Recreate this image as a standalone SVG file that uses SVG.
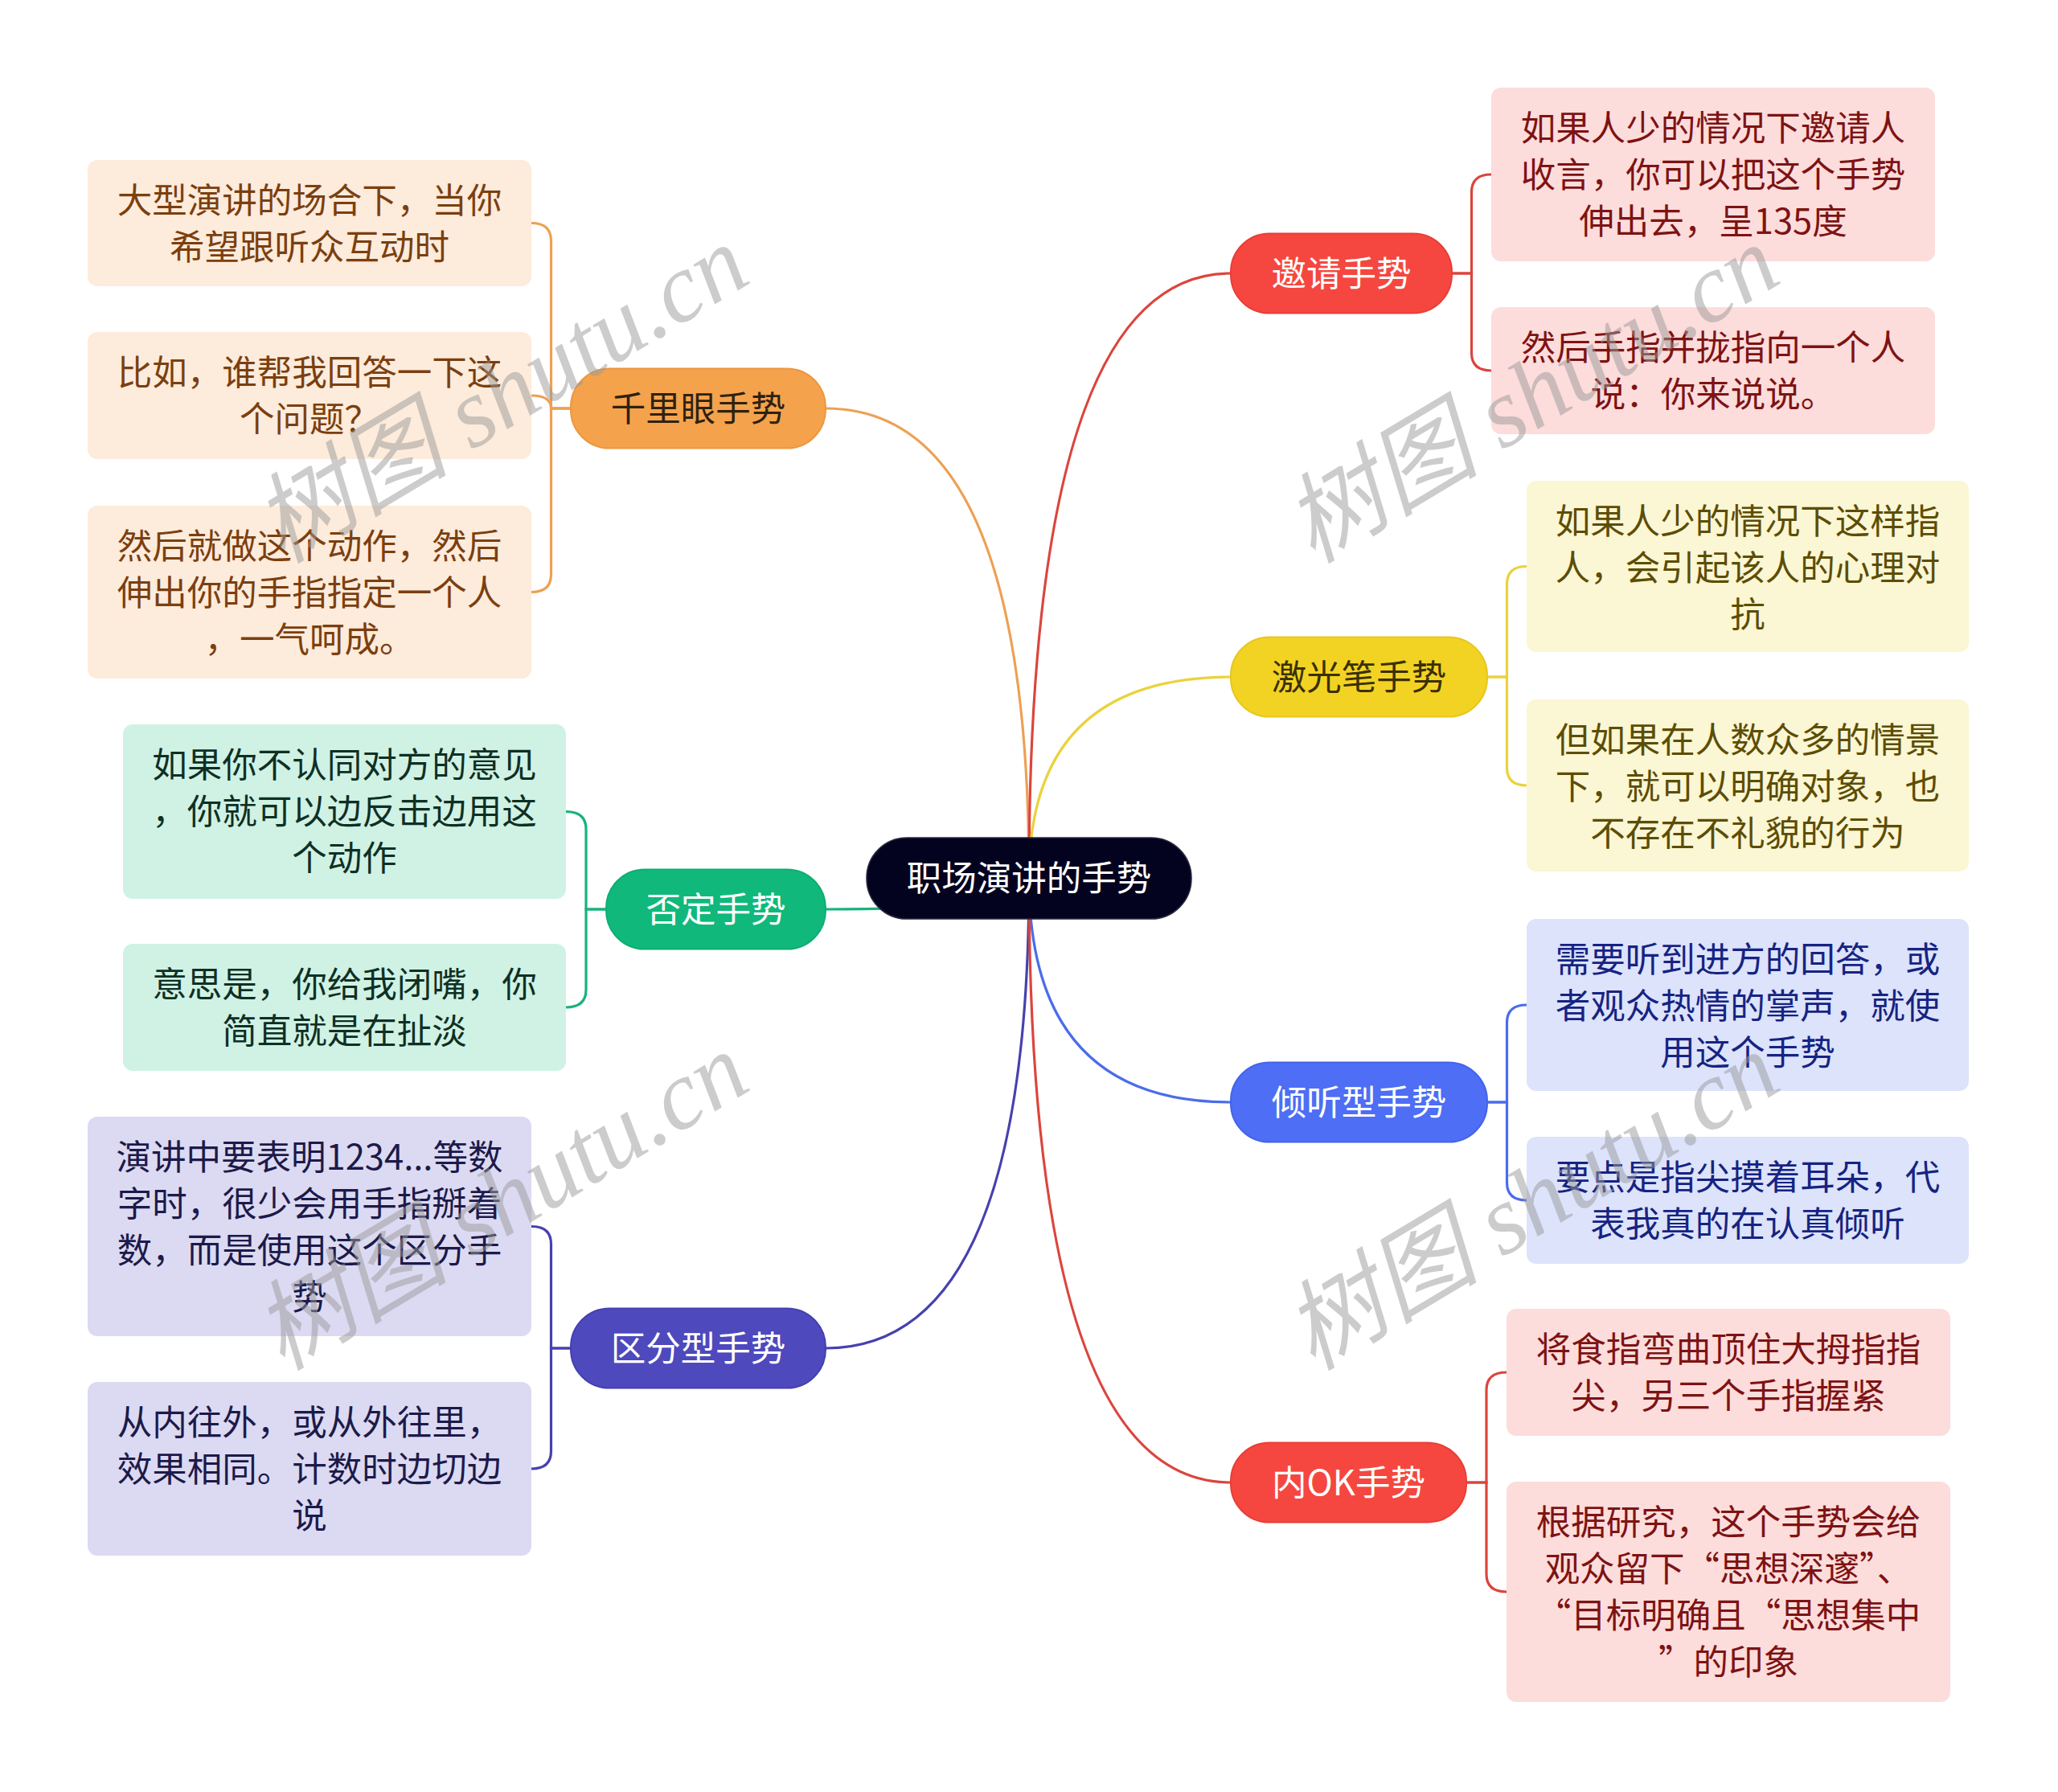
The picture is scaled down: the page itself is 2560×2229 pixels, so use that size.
<svg xmlns="http://www.w3.org/2000/svg" width="2560" height="2229" viewBox="0 0 2560 2229">
<style>
text{font-family:"Noto Sans CJK SC","Noto Sans",sans-serif;font-size:43.5px;text-anchor:middle}
.ln{fill:none;stroke-width:3.2;stroke-linecap:round}
.wm{font-family:"Liberation Serif","Noto Sans CJK SC",serif;font-style:italic;font-size:122px;fill:#9a9a9a;opacity:0.5;text-anchor:start}
.o{stroke:#EDA052}.g{stroke:#17B37B}.p{stroke:#4641AE}.r{stroke:#DB453D}.y{stroke:#EBD23C}.b{stroke:#4B6CEA}
.lo{fill:#FDEBDB}.lg{fill:#CFF2E4}.lp{fill:#DCDAF2}.lr{fill:#FDDCDC}.ly{fill:#FBF6D3}.lb{fill:#DCE3FB}
.to{fill:#7B3F0F}.tg{fill:#0F2F24}.tp{fill:#1C1A4A}.tr{fill:#7D1313}.ty{fill:#5C4D05}.tb{fill:#162382}
</style>
<rect width="2560" height="2229" fill="#ffffff"/>
<g id="connectors">
<path class="ln o" d="M1280 1092 Q1280 508 1027 508"/>
<path class="ln g" d="M1280 1092 Q1280 1131 1027 1131"/>
<path class="ln p" d="M1280 1092 Q1280 1677 1027 1677"/>
<path class="ln r" d="M1280 1092 Q1280 340 1531 340"/>
<path class="ln y" d="M1280 1092 Q1280 842 1531 842"/>
<path class="ln b" d="M1280 1092 Q1280 1371 1531 1371"/>
<path class="ln r" d="M1280 1092 Q1280 1844 1531 1844"/>
<path class="ln o" d="M710 508 H685.5 V299.5 Q685.5 277.5 661 277.5"/>
<path class="ln o" d="M710 508 H685.5 Q685.5 492 661 492"/>
<path class="ln o" d="M710 508 H685.5 V714.5 Q685.5 736.5 661 736.5"/>
<path class="ln g" d="M754 1131 H729 V1031.5 Q729 1009.5 704 1009.5"/>
<path class="ln g" d="M754 1131 H729 V1231 Q729 1253 704 1253"/>
<path class="ln p" d="M710 1677 H685.5 V1547.5 Q685.5 1525.5 661 1525.5"/>
<path class="ln p" d="M710 1677 H685.5 V1805 Q685.5 1827 661 1827"/>
<path class="ln r" d="M1806 340 H1830.5 V239 Q1830.5 217 1855 217"/>
<path class="ln r" d="M1806 340 H1830.5 V439 Q1830.5 461 1855 461"/>
<path class="ln y" d="M1850 842 H1874.5 V726.5 Q1874.5 704.5 1899 704.5"/>
<path class="ln y" d="M1850 842 H1874.5 V955 Q1874.5 977 1899 977"/>
<path class="ln b" d="M1850 1371 H1874.5 V1272 Q1874.5 1250 1899 1250"/>
<path class="ln b" d="M1850 1371 H1874.5 V1471 Q1874.5 1493 1899 1493"/>
<path class="ln r" d="M1824 1844 H1849 V1729 Q1849 1707 1874 1707"/>
<path class="ln r" d="M1824 1844 H1849 V1958 Q1849 1980 1874 1980"/>
</g>
<g id="center">
<rect x="1078" y="1042" width="404" height="101" rx="50" fill="#04031F" stroke="#2a2a40" stroke-width="1.5"/>
<text x="1280" y="1108" fill="#ffffff">职场演讲的手势</text>
</g>
<g id="n-qianliyan">
<rect x="710" y="458.5" width="317" height="99" rx="48" fill="#F5A24D" stroke="#EC9740" stroke-width="2"/>
<text x="868.5" y="524" fill="#2E2210">千里眼手势</text>
</g>
<g id="n-fouding">
<rect x="754" y="1081.5" width="273" height="99" rx="48" fill="#10B97B" stroke="#0EAE73" stroke-width="2"/>
<text x="890.5" y="1147" fill="#ffffff">否定手势</text>
</g>
<g id="n-qufen">
<rect x="710" y="1627.5" width="317" height="99" rx="48" fill="#4E49BD" stroke="#4540B0" stroke-width="2"/>
<text x="868.5" y="1693" fill="#ffffff">区分型手势</text>
</g>
<g id="n-yaoqing">
<rect x="1531" y="290.5" width="275" height="99" rx="48" fill="#F5473F" stroke="#E83E37" stroke-width="2"/>
<text x="1668.5" y="356" fill="#ffffff">邀请手势</text>
</g>
<g id="n-jiguang">
<rect x="1531" y="792.5" width="319" height="99" rx="48" fill="#F2D324" stroke="#E6C71E" stroke-width="2"/>
<text x="1690.5" y="858" fill="#3A3000">激光笔手势</text>
</g>
<g id="n-qingting">
<rect x="1531" y="1321.5" width="319" height="99" rx="48" fill="#4D6EF5" stroke="#4464E8" stroke-width="2"/>
<text x="1690.5" y="1387" fill="#ffffff">倾听型手势</text>
</g>
<g id="n-neiok">
<rect x="1531" y="1794.5" width="293" height="99" rx="48" fill="#F5473F" stroke="#E83E37" stroke-width="2"/>
<text x="1677.5" y="1860" fill="#ffffff">内OK手势</text>
</g>
<g id="leaf-a1">
<rect class="lo" x="109" y="199" width="552" height="157" rx="12"/>
<text class="to" x="385" y="264.5">大型演讲的场合下，当你</text>
<text class="to" x="385" y="322.5">希望跟听众互动时</text>
</g>
<g id="leaf-a2">
<rect class="lo" x="109" y="413" width="552" height="158" rx="12"/>
<text class="to" x="385" y="478.5">比如，谁帮我回答一下这</text>
<text class="to" x="385" y="536.5">个问题？</text>
</g>
<g id="leaf-a3">
<rect class="lo" x="109" y="629" width="552" height="215" rx="12"/>
<text class="to" x="385" y="694.5">然后就做这个动作，然后</text>
<text class="to" x="385" y="752.5">伸出你的手指指定一个人</text>
<text class="to" x="385" y="810.5">，一气呵成。</text>
</g>
<g id="leaf-b1">
<rect class="lg" x="153" y="901" width="551" height="217" rx="12"/>
<text class="tg" x="428.5" y="966.5">如果你不认同对方的意见</text>
<text class="tg" x="428.5" y="1024.5">，你就可以边反击边用这</text>
<text class="tg" x="428.5" y="1082.5">个动作</text>
</g>
<g id="leaf-b2">
<rect class="lg" x="153" y="1174" width="551" height="158" rx="12"/>
<text class="tg" x="428.5" y="1239.5">意思是，你给我闭嘴，你</text>
<text class="tg" x="428.5" y="1297.5">简直就是在扯淡</text>
</g>
<g id="leaf-c1">
<rect class="lp" x="109" y="1389" width="552" height="273" rx="12"/>
<text class="tp" x="385" y="1454.5">演讲中要表明1234...等数</text>
<text class="tp" x="385" y="1512.5">字时，很少会用手指掰着</text>
<text class="tp" x="385" y="1570.5">数，而是使用这个区分手</text>
<text class="tp" x="385" y="1628.5">势</text>
</g>
<g id="leaf-c2">
<rect class="lp" x="109" y="1719" width="552" height="216" rx="12"/>
<text class="tp" x="385" y="1784.5">从内往外，或从外往里，</text>
<text class="tp" x="385" y="1842.5">效果相同。计数时边切边</text>
<text class="tp" x="385" y="1900.5">说</text>
</g>
<g id="leaf-d1">
<rect class="lr" x="1855" y="109" width="552" height="216" rx="12"/>
<text class="tr" x="2131" y="174.5">如果人少的情况下邀请人</text>
<text class="tr" x="2131" y="232.5">收言，你可以把这个手势</text>
<text class="tr" x="2131" y="290.5">伸出去，呈135度</text>
</g>
<g id="leaf-d2">
<rect class="lr" x="1855" y="382" width="552" height="158" rx="12"/>
<text class="tr" x="2131" y="447.5">然后手指并拢指向一个人</text>
<text class="tr" x="2131" y="505.5">说：你来说说。</text>
</g>
<g id="leaf-e1">
<rect class="ly" x="1899" y="598" width="550" height="213" rx="12"/>
<text class="ty" x="2174" y="663.5">如果人少的情况下这样指</text>
<text class="ty" x="2174" y="721.5">人，会引起该人的心理对</text>
<text class="ty" x="2174" y="779.5">抗</text>
</g>
<g id="leaf-e2">
<rect class="ly" x="1899" y="870" width="550" height="214" rx="12"/>
<text class="ty" x="2174" y="935.5">但如果在人数众多的情景</text>
<text class="ty" x="2174" y="993.5">下，就可以明确对象，也</text>
<text class="ty" x="2174" y="1051.5">不存在不礼貌的行为</text>
</g>
<g id="leaf-f1">
<rect class="lb" x="1899" y="1143" width="550" height="214" rx="12"/>
<text class="tb" x="2174" y="1208.5">需要听到进方的回答，或</text>
<text class="tb" x="2174" y="1266.5">者观众热情的掌声，就使</text>
<text class="tb" x="2174" y="1324.5">用这个手势</text>
</g>
<g id="leaf-f2">
<rect class="lb" x="1899" y="1414" width="550" height="158" rx="12"/>
<text class="tb" x="2174" y="1479.5">要点是指尖摸着耳朵，代</text>
<text class="tb" x="2174" y="1537.5">表我真的在认真倾听</text>
</g>
<g id="leaf-g1">
<rect class="lr" x="1874" y="1628" width="552" height="158" rx="12"/>
<text class="tr" x="2150" y="1693.5">将食指弯曲顶住大拇指指</text>
<text class="tr" x="2150" y="1751.5">尖，另三个手指握紧</text>
</g>
<g id="leaf-g2">
<rect class="lr" x="1874" y="1843" width="552" height="274" rx="12"/>
<text class="tr" x="2150" y="1908.5">根据研究，这个手势会给</text>
<text class="tr" x="2150" y="1966.5">观众留下“思想深邃”、</text>
<text class="tr" x="2150" y="2024.5">“目标明确且“思想集中</text>
<text class="tr" x="2150" y="2082.5">”的印象</text>
</g>
<g id="watermarks">
<text class="wm" transform="translate(351 702) rotate(-31)">树图 shutu.cn</text>
<text class="wm" transform="translate(1633 702) rotate(-31)">树图 shutu.cn</text>
<text class="wm" transform="translate(351 1706) rotate(-31)">树图 shutu.cn</text>
<text class="wm" transform="translate(1633 1706) rotate(-31)">树图 shutu.cn</text>
</g>
</svg>
